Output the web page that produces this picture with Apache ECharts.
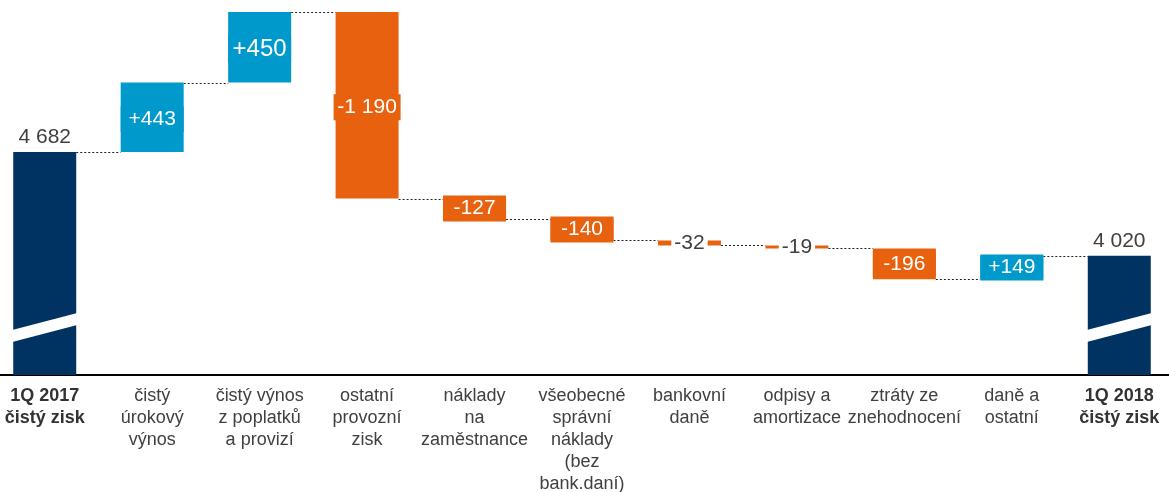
<!DOCTYPE html>
<html><head><meta charset="utf-8">
<script src="https://cdn.jsdelivr.net/npm/echarts@6/dist/echarts.min.js"></script>
<style>html,body{margin:0;padding:0;background:#fff}#c{width:1169px;height:492px}</style>
</head><body><div id="c"></div>
<script>
const categories = ['1Q 2017\nčistý zisk', 'čistý\núrokový\nvýnos', 'čistý výnos\nz poplatků\na provizí', 'ostatní\nprovozní\nzisk', 'náklady\nna\nzaměstnance', 'všeobecné\nsprávní\nnáklady\n(bez\nbank.daní)', 'bankovní\ndaně', 'odpisy a\namortizace', 'ztráty ze\nznehodnocení', 'daně a\nostatní', '1Q 2018\nčistý zisk'];
const values = [4682, 443, 450, -1190, -127, -140, -32, -19, -196, 149, 4020];
const isTotal = [true, false, false, false, false, false, false, false, false, false, true];
const valueLabels = ['4 682', '+443', '+450', '-1 190', '-127', '-140', '-32', '-19', '-196', '+149', '4 020'];
const yMin = 3260, yMax = 5575;

const NAVY = '#003262', BLUE = '#0099CC', ORANGE = '#E8610E', TXT = '#404040';
const FONT = "'Liberation Sans', Arial, sans-serif";

let run = 0;
const segs = values.map((v, i) => {
  if (isTotal[i]) { run = v; return [i, yMin, v, v]; }
  const a = run, b = run + v; run = b;
  return [i, Math.min(a, b), Math.max(a, b), b];
});

function renderItem(params, api) {
  const i = api.value(0), lo = api.value(1), hi = api.value(2), lvl = api.value(3);
  const band = api.size([1, 0])[0];
  const w = Math.round(band * 0.59);
  const pTop = api.coord([i, hi]), pBot = api.coord([i, lo]);
  const x = pTop[0] - w / 2, y = pTop[1], h = pBot[1] - pTop[1];
  const color = isTotal[i] ? NAVY : (values[i] > 0 ? BLUE : ORANGE);
  const fs = (i === 2) ? 24 : 21;
  const children = [];
  if (i < values.length - 1) {
    const ly = Math.round(api.coord([i, lvl])[1]) + 0.5;
    children.push({ type: 'line', shape: { x1: x + w, y1: ly, x2: pTop[0] + band - w / 2, y2: ly },
      style: { stroke: '#222', lineWidth: 1, lineDash: [2, 2] }, z2: 1 });
  }
  let textContent, textConfig;
  if (isTotal[i]) {
    textContent = { style: { text: valueLabels[i], fill: TXT, fontSize: 21, fontFamily: FONT } };
    textConfig = { position: 'top', distance: 4 };
  } else if (h < 12) {
    textContent = { style: { text: valueLabels[i], fill: TXT, fontSize: 21, fontFamily: FONT, backgroundColor: '#fff', padding: [0, 3], lineHeight: 24 } };
    textConfig = { position: 'inside' };
  } else {
    const bw = valueLabels[i].length > 5 ? w : w - 4;
    textContent = { style: { text: valueLabels[i], fill: '#fff', fontSize: fs, fontFamily: FONT, backgroundColor: color, width: bw, align: 'center', padding: [2, 2], lineHeight: 22 } };
    textConfig = { position: 'inside', offset: [0, h > 40 ? 2 : 0] };
  }
  children.push({ type: 'rect', shape: { x: x, y: y, width: w, height: h }, style: { fill: color }, textContent, textConfig, z2: 2 });
  if (isTotal[i]) {
    const b = pBot[1];
    children.push({ type: 'polygon', shape: { points: [[x - 1, b - 33], [x - 1, b - 45], [x + w + 1, b - 62], [x + w + 1, b - 50]] },
      style: { fill: '#fff' }, z2: 3 });
  }
  return { type: 'group', children };
}

const chart = echarts.init(document.getElementById('c'));
chart.setOption({
  animation: false,
  grid: { left: -9, right: -4, top: 12, bottom: 117, containLabel: false, outerBoundsMode: 'none' },
  xAxis: {
    type: 'category', data: categories,
    axisLine: { lineStyle: { color: '#000', width: 2 } },
    axisTick: { show: false },
    axisLabel: {
      interval: 0, margin: 10, color: TXT, fontSize: 18, lineHeight: 22, fontFamily: FONT,
      hideOverlap: false,
      formatter: (val, idx) => isTotal[idx] ? val.split('\n').map(l => '{b|' + l + '}').join('\n') : val,
      rich: { b: { fontWeight: 'bold', fontSize: 18, lineHeight: 22, color: '#333', fontFamily: FONT } }
    }
  },
  yAxis: { type: 'value', min: yMin, max: yMax, show: false, splitLine: { show: false } },
  series: [{ type: 'custom', renderItem, data: segs, encode: { x: 0, y: [1, 2] }, clip: false }]
});
</script></body></html>
